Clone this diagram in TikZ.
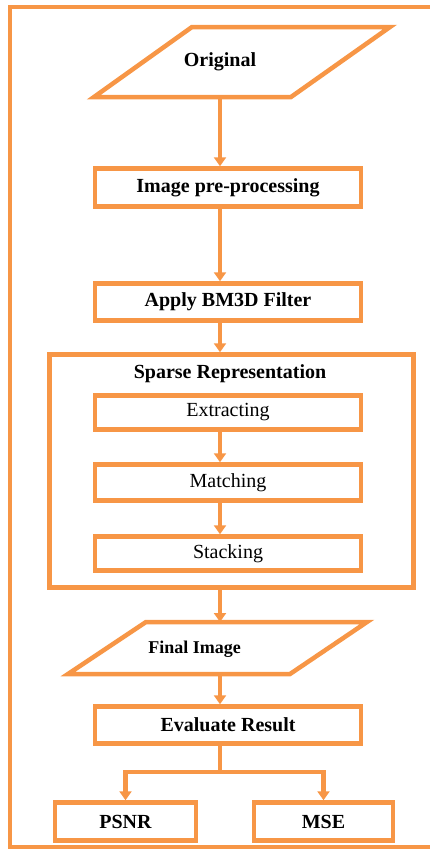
\documentclass[tikz,border=0pt]{standalone}
\usepackage{fontspec}
\setmainfont{Liberation Serif}
\usetikzlibrary{arrows.meta}

\definecolor{flow}{HTML}{F79646}

\tikzset{
  box/.style={draw=flow, line width=4.5pt, inner sep=0pt,
    minimum width=266pt, minimum height=37pt,
    font=\fontsize{20}{22}\selectfont\bfseries},
  subbox/.style={box, font=\fontsize{20}{22}\selectfont},
  iobox/.style={draw=flow, line width=4.5pt, line join=miter},
  arr/.style={draw=flow, line width=4.5pt,
    -{Triangle[width=12pt,length=9pt]}},
  link/.style={draw=flow, line width=4.5pt},
}

\begin{document}
\begin{tikzpicture}[x=1pt, y=-1pt]
  \useasboundingbox (0,0) rectangle (430,849);

  % frame, open on the right
  \draw[flow, line width=4pt] (432,7) -- (10,7) -- (10,846.5) -- (432,846.5);

  % input and output parallelograms
  \draw[iobox] (94,97) -- (192,27) -- (390,27) -- (291,97) -- cycle;
  \node[font=\fontsize{20}{22}\selectfont\bfseries] (orig) at (220,62) {Original};
  \draw[iobox] (68,674) -- (146,622) -- (367,622) -- (290,674) -- cycle;
  \node[font=\fontsize{18}{20}\selectfont\bfseries] (final) at (194.5,649) {Final Image};
  \coordinate (orig-b) at (220,97);
  \coordinate (final-t) at (220,622);
  \coordinate (final-b) at (220,674);

  % process boxes
  \node[box, minimum height=38pt] (pre) at (228,187.5) {Image pre-processing};
  \node[box] (bm3d) at (228,302) {Apply BM3D Filter};
  \node[box, minimum width=364pt, minimum height=233pt] (sparse) at (231.5,471) {};
  \node[font=\fontsize{20}{22}\selectfont\bfseries] (title) at (230,374) {Sparse Representation};
  \node[subbox, minimum height=34pt] (ext) at (228,412.5) {Extracting};
  \node[subbox, minimum height=36pt] (match) at (228,482.5) {Matching};
  \node[subbox, minimum height=34pt] (stack) at (228,553.5) {Stacking};
  \node[box] (eval) at (228,725) {Evaluate Result};
  \node[box, minimum width=141pt, minimum height=38pt] (psnr) at (125.5,821.5) {PSNR};
  \node[box, minimum width=139pt, minimum height=38pt] (mse) at (323.5,821.5) {MSE};

  \coordinate (spine) at (220,0);
  \coordinate (split) at (220,772);

  % connectors
  \draw[arr] (orig-b) -- (pre.north -| spine);
  \draw[arr] (pre.south -| spine) -- (bm3d.north -| spine);
  \draw[arr] (bm3d.south -| spine) -- (sparse.north -| spine);
  \draw[arr] (ext.south -| spine) -- (match.north -| spine);
  \draw[arr] (match.south -| spine) -- (stack.north -| spine);
  \draw[arr] (sparse.south -| spine) -- (final-t);
  \draw[arr] (final-b) -- (eval.north -| spine);
  \draw[link] (eval.south -| spine) -- (split);
  \draw[arr] (split) -| (psnr);
  \draw[arr] (split) -| (mse);
\end{tikzpicture}
\end{document}
